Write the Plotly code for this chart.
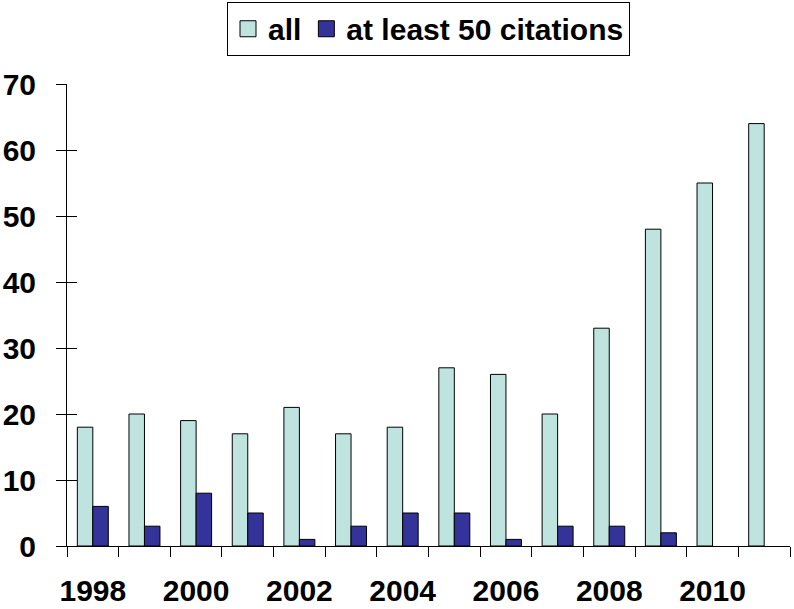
import plotly.graph_objects as go

years = list(range(1998, 2012))
all_vals = [18, 20, 19, 17, 21, 17, 18, 27, 26, 20, 33, 48, 55, 64]
cited_vals = [6, 3, 8, 5, 1, 3, 5, 5, 1, 3, 3, 2, 0, 0]
series_names = ["all", "at least 50 citations"]
label_years = [1998, 2000, 2002, 2004, 2006, 2008, 2010]
y_ticks = [0, 10, 20, 30, 40, 50, 60, 70]

c_all = "#BFE4E0"
c_cit = "#333399"
font = dict(family="Liberation Sans, Arial, sans-serif", size=30, color="black", weight="bold")

fig = go.Figure()
fig.add_trace(go.Bar(x=years, y=all_vals, name=series_names[0],
                     marker=dict(color=c_all, line=dict(color="black", width=[1 if v else 0 for v in all_vals])),
                     showlegend=False))
fig.add_trace(go.Bar(x=years, y=cited_vals, name=series_names[1],
                     marker=dict(color=c_cit, line=dict(color="black", width=[1 if v else 0 for v in cited_vals])),
                     showlegend=False))
# legend entries (large swatches)
for nm, c in zip(series_names, [c_all, c_cit]):
    fig.add_trace(go.Scatter(x=[None], y=[None], mode="markers", name=nm, xaxis="x2", yaxis="y2",
                             marker=dict(symbol="square", size=20, color=c, line=dict(color="black", width=1))))

boundaries = [years[0] - 0.5 + i for i in range(len(years) + 1)]
xr = [years[0] - 0.5, years[-1] + 0.5]

fig.update_layout(
    width=794, height=609,
    margin=dict(l=67, r=4, t=84, b=63, autoexpand=False),
    paper_bgcolor="white", plot_bgcolor="white",
    font=font,
    barmode="group", bargap=0.4, bargroupgap=0,
    xaxis=dict(range=xr, tickmode="array", tickvals=boundaries, ticks="outside", ticklen=10, tickwidth=1,
               tickcolor="black", showticklabels=False, showline=True, linecolor="black", linewidth=1,
               showgrid=False, zeroline=False, automargin=False),
    xaxis2=dict(range=xr, overlaying="x", anchor="y", side="bottom", tickmode="array", tickvals=label_years,
                ticktext=[str(v) for v in label_years], ticks="", showline=False, showgrid=False,
                zeroline=False, ticklabelstandoff=24, tickfont=font, automargin=False),
    yaxis=dict(range=[0, 70], tickmode="array", tickvals=y_ticks, ticks="outside", ticklen=10, tickwidth=1,
               tickcolor="black", showline=True, linecolor="black", linewidth=1, showgrid=False,
               zeroline=False, tickfont=font, ticklabelstandoff=14, automargin=False),
    yaxis2=dict(range=[0, 70], overlaying="y", anchor="x", side="left", tickmode="array", tickvals=y_ticks,
                ticks="inside", ticklen=10, tickwidth=1, tickcolor="black", showticklabels=False,
                showline=False, showgrid=False, zeroline=False, automargin=False),
    legend=dict(orientation="h", x=0.5, xanchor="center", y=1.178, yanchor="top", yref="paper",
                bordercolor="black", borderwidth=1, bgcolor="white", font=font, itemsizing="trace"),
)

fig.write_html("out.html", config={"displayModeBar": False},
               post_script="document.body.style.margin='0';")
